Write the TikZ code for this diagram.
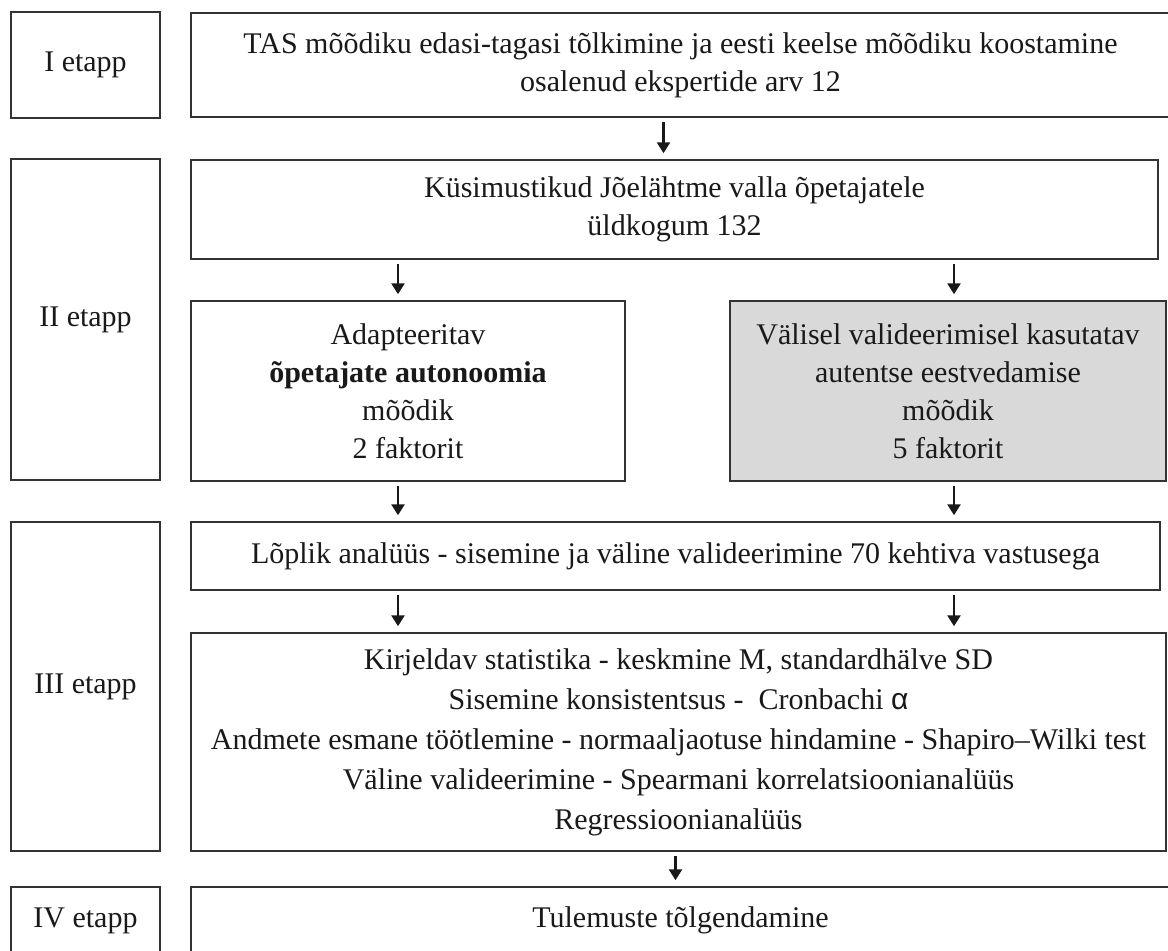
\documentclass[tikz,border=0pt]{standalone}
\usepackage{fontspec}
\setmainfont{Liberation Serif}
\newfontfamily\alphafont{Liberation Sans}
\usetikzlibrary{arrows.meta}
\tikzset{
  stagebox/.style={draw=black!80, line width=1.5pt, inner sep=0pt, align=center,
    font=\fontsize{30}{38}\selectfont, text=black!90},
  arr/.style={-{Triangle[length=11pt,width=13pt]}, line width=2.6pt,
    shorten <=4pt, shorten >=6pt, draw=black!90}
}
\begin{document}
\begin{tikzpicture}[x=1pt,y=-1pt]
\useasboundingbox (0,0) rectangle (1168,951);
\clip (0,0) rectangle (1168,951);
\fill[white] (0,0) rectangle (1168,951);
% stage labels
\node[stagebox, minimum width=149pt, minimum height=106pt] (s1) at (85.5,65) {I etapp};
\node[stagebox, minimum width=149pt, minimum height=321pt] (s2) at (85.5,319.5) {II etapp};
\node[stagebox, minimum width=149pt, minimum height=329pt] (s3) at (85.5,686.5) {III etapp};
\node[stagebox, minimum width=149pt, minimum height=67pt] (s4) at (85.5,920.5) {IV etapp};
% main boxes
\node[stagebox, minimum width=979pt, minimum height=104pt] (top) at (680.5,65)
  {TAS mõõdiku edasi-tagasi tõlkimine ja eesti keelse mõõdiku koostamine\\osalenud ekspertide arv 12};
\node[stagebox, minimum width=967pt, minimum height=99pt] (kus) at (674.5,209.5)
  {Küsimustikud Jõelähtme valla õpetajatele\\üldkogum 132};
\node[stagebox, minimum width=434pt, minimum height=180pt] (left) at (408,391)
  {Adapteeritav\\\textbf{õpetajate autonoomia}\\mõõdik\\2 faktorit};
\node[stagebox, fill=black!15, minimum width=436pt, minimum height=180pt] (gray) at (948,391)
  {Välisel valideerimisel kasutatav\\autentse eestvedamise\\mõõdik\\5 faktorit};
\node[stagebox, minimum width=969pt, minimum height=68pt] (lop) at (675.5,556)
  {Lõplik analüüs - sisemine ja väline valideerimine 70 kehtiva vastusega};
\node[stagebox, font=\fontsize{30}{40}\selectfont, minimum width=975pt, minimum height=218pt] (big) at (678.5,742)
  {Kirjeldav statistika - keskmine M, standardhälve SD\\
   Sisemine konsistentsus -\ \ Cronbachi {\alphafont α}\\
   Andmete esmane töötlemine - normaaljaotuse hindamine - Shapiro–Wilki test\\
   Väline valideerimine - Spearmani korrelatsioonianalüüs\\
   Regressioonianalüüs};
\node[stagebox, minimum width=979pt, minimum height=67pt] (bot) at (680.5,920.5)
  {Tulemuste tõlgendamine};
% arrows
\draw[arr] ([xshift=-11pt]top.south -| kus.north) -- ([xshift=-11pt]kus.north);
\draw[arr] ([xshift=-10pt]kus.south -| left.north) -- ([xshift=-10pt]left.north);
\draw[arr] ([xshift=6pt]kus.south -| gray.north) -- ([xshift=6pt]gray.north);
\draw[arr] ([xshift=-10pt]left.south) -- ([xshift=-10pt]left.south |- lop.north);
\draw[arr] ([xshift=6pt]gray.south) -- ([xshift=6pt]gray.south |- lop.north);
\draw[arr] ([xshift=-10pt]lop.south -| left.south) -- ([xshift=-10pt]big.north -| left.south);
\draw[arr] ([xshift=6pt]lop.south -| gray.south) -- ([xshift=6pt]big.north -| gray.south);
\draw[arr] ([xshift=-3pt]big.south) -- ([xshift=-3pt]big.south |- bot.north);
\end{tikzpicture}
\end{document}
